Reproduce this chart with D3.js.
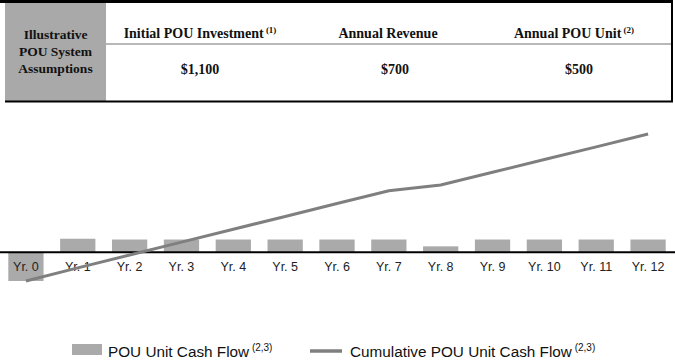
<!DOCTYPE html>
<html>
<head>
<meta charset="utf-8">
<script src="https://cdn.jsdelivr.net/npm/d3@7"></script>
<style>
  body { margin: 0; background: #fff; }
  svg { display: block; }
</style>
</head>
<body>
<div id="chart"></div>
<script>
// assumption table
const assumptionHeaders = ["Initial POU Investment", "Annual Revenue", "Annual POU Unit"];
const assumptionNotes = ["(1)", "", "(2)"];
const assumptionValues = ["$1,100", "$700", "$500"];
const rowTitle = ["Illustrative", "POU System", "Assumptions"];

// chart data
const years = ["Yr. 0", "Yr. 1", "Yr. 2", "Yr. 3", "Yr. 4", "Yr. 5", "Yr. 6",
  "Yr. 7", "Yr. 8", "Yr. 9", "Yr. 10", "Yr. 11", "Yr. 12"];
const cashFlow = [-1100, 510, 480, 480, 480, 480, 480, 480, 220, 480, 480, 480, 480];
const cumulative = [-1100, -600, -110, 380, 870, 1360, 1850, 2340, 2560, 3040, 3530, 4010, 4500];
const legendLabels = ["POU Unit Cash Flow", "Cumulative POU Unit Cash Flow"];
const legendNote = "(2,3)";

const width = 675, height = 364;
const barColor = "#aaaaaa";
const lineColor = "#7f7f7f";
const serif = "'Liberation Serif', 'Times New Roman', serif";
const sans = "'Liberation Sans', Arial, Helvetica, sans-serif";

const svg = d3.select("#chart").append("svg")
  .attr("width", width)
  .attr("height", height);

// ---- table ----
const table = svg.append("g");
table.append("rect")
  .attr("x", 5).attr("y", 2).attr("width", 101).attr("height", 99)
  .attr("fill", "#a9a9a9");
table.append("line")
  .attr("x1", 106).attr("x2", 672).attr("y1", 44).attr("y2", 44)
  .attr("stroke", "#a0a0a0").attr("stroke-width", 1.5);
table.append("line")
  .attr("x1", 0).attr("x2", 673).attr("y1", 1.5).attr("y2", 1.5)
  .attr("stroke", "#000").attr("stroke-width", 3);
table.append("line")
  .attr("x1", 5).attr("x2", 673).attr("y1", 101.5).attr("y2", 101.5)
  .attr("stroke", "#000").attr("stroke-width", 2);
table.append("line")
  .attr("x1", 672).attr("x2", 672).attr("y1", 0).attr("y2", 102)
  .attr("stroke", "#000").attr("stroke-width", 2);

table.selectAll("text.rowtitle")
  .data(rowTitle)
  .enter().append("text")
  .attr("class", "rowtitle")
  .attr("x", 55.5)
  .attr("y", (d, i) => 39 + i * 17)
  .attr("text-anchor", "middle")
  .style("font-family", serif)
  .style("font-weight", "bold")
  .style("font-size", "13.5px")
  .attr("fill", "#111")
  .text(d => d);

const headerX = [200, 388, 574];
const valueX = [200, 395, 579];

const headers = table.selectAll("text.header")
  .data(assumptionHeaders)
  .enter().append("text")
  .attr("class", "header")
  .attr("x", (d, i) => headerX[i])
  .attr("y", 38)
  .attr("text-anchor", "middle")
  .style("font-family", serif)
  .style("font-weight", "bold")
  .style("font-size", "14px")
  .attr("fill", "#111");
headers.append("tspan").text(d => d);
headers.append("tspan")
  .attr("dy", -5)
  .style("font-size", "9px")
  .text((d, i) => assumptionNotes[i] ? "\u00a0" + assumptionNotes[i] : "");

table.selectAll("text.value")
  .data(assumptionValues)
  .enter().append("text")
  .attr("class", "value")
  .attr("x", (d, i) => valueX[i])
  .attr("y", 74)
  .attr("text-anchor", "middle")
  .style("font-family", serif)
  .style("font-weight", "bold")
  .style("font-size", "14px")
  .attr("fill", "#111")
  .text(d => d);

// ---- chart ----
const x = d3.scaleBand()
  .domain(years)
  .range([0, 674])
  .paddingInner(0.32)
  .paddingOuter(0.16);

const y = d3.scaleLinear()
  .domain([-1100, 4500])
  .range([281, 134]);

svg.append("g")
  .selectAll("rect")
  .data(cashFlow)
  .enter().append("rect")
  .attr("x", (d, i) => x(years[i]))
  .attr("y", d => y(Math.max(0, d)))
  .attr("width", x.bandwidth())
  .attr("height", d => Math.abs(y(d) - y(0)))
  .attr("fill", barColor);

// x axis along zero
const xAxis = svg.append("g")
  .attr("transform", "translate(0," + y(0) + ")")
  .call(d3.axisBottom(x).tickSize(0).tickPadding(10));
xAxis.select(".domain").remove();
xAxis.selectAll("text")
  .style("font-family", sans)
  .style("font-size", "12.5px")
  .attr("fill", "#222");
svg.append("line")
  .attr("x1", 0).attr("x2", width)
  .attr("y1", y(0)).attr("y2", y(0))
  .attr("stroke", "#000").attr("stroke-width", 2);

const line = d3.line()
  .x((d, i) => x(years[i]) + x.bandwidth() / 2)
  .y(d => y(d));

svg.append("path")
  .datum(cumulative)
  .attr("d", line)
  .attr("fill", "none")
  .attr("stroke", lineColor)
  .attr("stroke-width", 3);

// ---- legend ----
const legend = svg.append("g");
legend.append("rect")
  .attr("x", 72).attr("y", 344).attr("width", 30).attr("height", 11)
  .attr("fill", barColor);
legend.append("line")
  .attr("x1", 310).attr("x2", 342).attr("y1", 351).attr("y2", 351)
  .attr("stroke", lineColor).attr("stroke-width", 3.5);

const legendX = [108, 350];
const legendText = legend.selectAll("text")
  .data(legendLabels)
  .enter().append("text")
  .attr("x", (d, i) => legendX[i])
  .attr("y", 357)
  .style("font-family", sans)
  .style("font-size", "15.3px")
  .attr("fill", "#111");
legendText.append("tspan").text(d => d);
legendText.append("tspan")
  .attr("dy", -6)
  .style("font-size", "10px")
  .text("\u00a0" + legendNote);
</script>
</body>
</html>
